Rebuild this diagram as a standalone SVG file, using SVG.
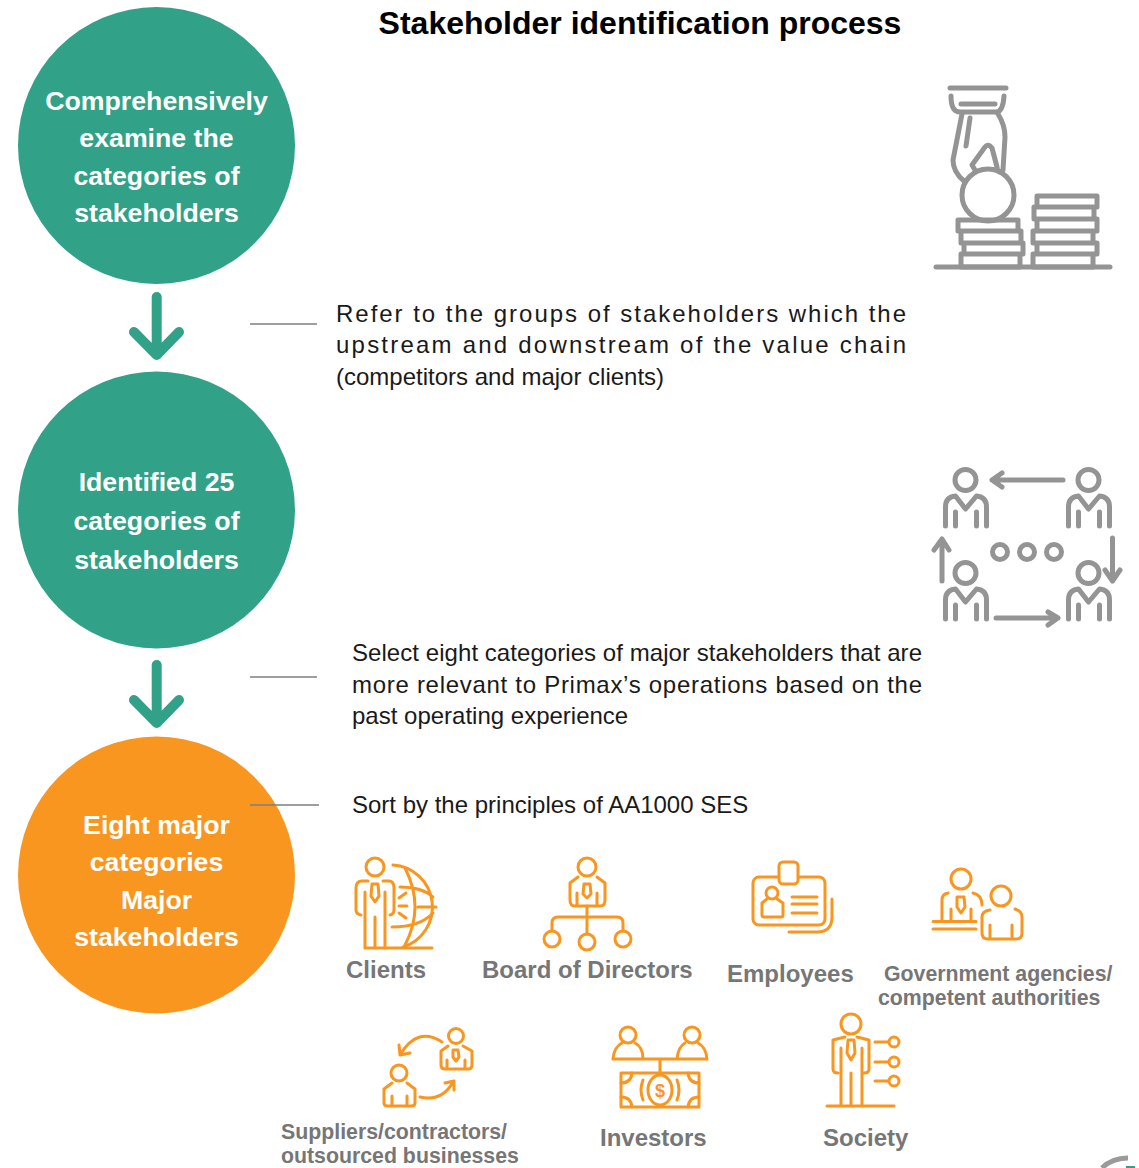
<svg xmlns="http://www.w3.org/2000/svg" xmlns:xlink="http://www.w3.org/1999/xlink" width="1139" height="1168" viewBox="0 0 1139 1168">
<style>
text{font-family:"Liberation Sans",Arial,sans-serif}
.title{font-size:32px;font-weight:700;fill:#000;text-anchor:middle}
.node{font-size:26.7px;font-weight:700;fill:#fff;text-anchor:middle}
.body{font-size:24px;fill:#1a1a1a}
.lab{font-size:24px;font-weight:700;fill:#767676}
.lab2{font-size:21.3px;font-weight:700;fill:#767676}
.g{fill:none;stroke:#949494;stroke-width:5;stroke-linecap:round;stroke-linejoin:round}
.o{fill:none;stroke:#F9961F;stroke-width:3;stroke-linecap:round;stroke-linejoin:round}
.arrow{fill:none;stroke:#31A287;stroke-width:10;stroke-linecap:round;stroke-linejoin:round}
.lead{stroke:#7f7f7f;stroke-width:1.5;fill:none}
</style>
<defs>
<g id="person" class="g">
<circle cx="0" cy="0" r="10.5"/>
<path d="M-20,46V27Q-20,17-10,16L0,29L11,16Q21,17 21,27V46"/>
<path d="M-10,32V46M11,32V46"/>
</g>
</defs>
<text class="title" x="640" y="34">Stakeholder identification process</text>

<g id="node-examine">
<circle cx="156.500" cy="145.500" r="138.500" fill="#31A287"/>
<text class="node" x="156.500" y="110">Comprehensively</text>
<text class="node" x="156.500" y="147">examine the</text>
<text class="node" x="156.500" y="185">categories of</text>
<text class="node" x="156.500" y="222">stakeholders</text>
</g>
<g id="node-identified">
<circle cx="156.500" cy="510" r="138.500" fill="#31A287"/>
<text class="node" x="156.500" y="491">Identified 25</text>
<text class="node" x="156.500" y="530">categories of</text>
<text class="node" x="156.500" y="569">stakeholders</text>
</g>
<g id="node-eight">
<circle cx="156.500" cy="875" r="138.500" fill="#F9961F"/>
<text class="node" x="156.500" y="834">Eight major</text>
<text class="node" x="156.500" y="871">categories</text>
<text class="node" x="156.500" y="909">Major</text>
<text class="node" x="156.500" y="946">stakeholders</text>
</g>

<g id="connectors">
<path class="arrow" d="M156.700,297V354M134,332L156.700,355L179,332"/>
<path class="arrow" d="M156.700,665V722M134,700L156.700,723L179,700"/>
<path class="lead" d="M250,324H317M250,677H317M250,805H319"/>
</g>

<g id="notes">
<text class="body" x="336" y="322" textLength="570">Refer to the groups of stakeholders which the</text>
<text class="body" x="336" y="353" textLength="570">upstream and downstream of the value chain</text>
<text class="body" x="336" y="385">(competitors and major clients)</text>
<text class="body" x="352" y="661" textLength="570">Select eight categories of major stakeholders that are</text>
<text class="body" x="352" y="693" textLength="570">more relevant to Primax’s operations based on the</text>
<text class="body" x="352" y="724">past operating experience</text>
<text class="body" x="352" y="813">Sort by the principles of AA1000 SES</text>
</g>

<g id="icon-coins" class="g">
<path d="M950,88H1006M951,96Q951,112 960,112H996Q1003,112 1004,96M961,104H995"/>
<path d="M962,114L953,160Q953,172 964,181M998,114Q1005,125 1005,137L1003,170Q998,175 997,167L992,148Q988,143 985,147L972,165L975,170M970,118L966,146"/>
<circle cx="988" cy="195" r="26"/>
<path d="M958,220H1018V231H958ZM961,231H1021V243H961ZM964,243H1023V254H964ZM961,254H1020V267H961Z"/>
<path d="M1037,196H1097V207H1037ZM1034,207H1094V219H1034ZM1037,219H1097V231H1037ZM1033,231H1093V243H1033ZM1037,243H1097V254H1037ZM1033,254H1093V267H1033Z"/>
<path d="M936,267H1110"/>
</g>

<g id="icon-cycle">
<use xlink:href="#person" href="#person" x="965.500" y="480"/>
<use xlink:href="#person" href="#person" x="1088.500" y="480"/>
<use xlink:href="#person" href="#person" x="965.500" y="573"/>
<use xlink:href="#person" href="#person" x="1088.500" y="573"/>
<g class="g">
<path d="M1063,480H992M1002,473L992,480L1002,487"/>
<path d="M942,581V539M934,550L942,539L949,550"/>
<path d="M1112.500,538V581M1105,570L1112.500,581L1120,570"/>
<path d="M996,618H1058M1048,612L1058,618L1048,625"/>
<circle cx="1000" cy="552" r="7.500"/><circle cx="1027" cy="552" r="7.500"/><circle cx="1054" cy="552" r="7.500"/>
</g>
</g>

<g id="stakeholder-clients">
<g class="o">
<circle cx="375" cy="867" r="9"/>
<path d="M368,881H362Q356,881 356,888V910Q356,914 361,915M383,881H389Q394,881 394,888V910Q394,914 390,915M365,892V948M385,892V948M375,917V948M365,948H432"/>
<path d="M372,884H378L379,896L375,902L371,896Z"/>
<path d="M393,865A42,42 0 0 1 403,947M405,868Q425,907 405,945M400,887Q422,887 433,897M418,907H436M392,927Q420,927 433,913M399,898L406,893M399,906H407M399,913L406,918"/>
</g>
<text class="lab" x="346" y="978">Clients</text>
</g>

<g id="stakeholder-board">
<g class="o">
<circle cx="587" cy="867" r="9"/>
<path d="M578,877L570,883V900Q570,906 575,906H600Q605,906 605,900V883L597,877M577,893V905M597,893V905M584,884H590L591,894L587,898L583,894Z"/>
<path d="M587,906V934M552,931V923Q552,917 558,917H617Q623,917 623,923V931"/>
<circle cx="552" cy="939" r="8"/><circle cx="587" cy="942" r="8"/><circle cx="623" cy="939" r="8"/>
</g>
<text class="lab" x="482" y="978">Board of Directors</text>
</g>

<g id="stakeholder-employees">
<g class="o">
<rect x="753" y="877" width="72" height="48" rx="6"/>
<rect x="779" y="862" width="19" height="22" rx="4" fill="#fff"/>
<circle cx="772" cy="893" r="6"/>
<path d="M767,899L762,903V915Q762,917 764,917H781Q783,917 783,915V903L777,899"/>
<path d="M792,897H817M792,904H817M792,913H817M832,899V917Q832,932 817,932H789"/>
</g>
<text class="lab" x="727" y="982">Employees</text>
</g>

<g id="stakeholder-government">
<g class="o">
<circle cx="961" cy="879" r="10"/>
<path d="M948,893Q942,894 942,900V921M973,893Q982,895 982,905M951,909V921M971,909V921M957,897H964L965,907L961,913L957,907ZM933,921.500H976M933,929H976"/>
<circle cx="1001" cy="896" r="10"/>
<path d="M990,910Q982,911 982,917V933Q982,939 988,939H1016Q1022,939 1022,933V917Q1022,911 1015,909M990,925V939M1012,925V939"/>
</g>
<text class="lab2" x="884" y="980.500">Government agencies/</text>
<text class="lab2" x="878" y="1004.500">competent authorities</text>
</g>

<g id="stakeholder-suppliers">
<g class="o">
<circle cx="456" cy="1036" r="7.500"/>
<path d="M448,1046L441,1051V1065Q441,1069 445,1069H468Q472,1069 472,1065V1051L463,1046M447,1060V1069M465,1060V1069M453,1050H458L459,1057L456,1061L453,1057Z"/>
<circle cx="399" cy="1073" r="8"/>
<path d="M392,1083L384,1089V1103Q384,1106 388,1106H411Q415,1106 415,1103V1089L407,1083M392,1096V1106M407,1096V1106"/>
<path d="M442,1042Q417,1026 400,1055M399,1045L400,1055L410,1053M420,1097Q442,1102 453,1082M445,1083L454,1081L454,1090"/>
</g>
<text class="lab2" x="281" y="1139">Suppliers/contractors/</text>
<text class="lab2" x="281" y="1163">outsourced businesses</text>
</g>

<g id="stakeholder-investors">
<g class="o">
<circle cx="628" cy="1035" r="8"/><circle cx="692" cy="1035" r="8"/>
<path d="M613,1059H707M613,1059Q614,1047 622,1043M635,1043Q643,1047 643,1059M677,1059Q678,1047 685,1043M698,1043Q706,1047 707,1059M660,1059V1073"/>
<rect x="621" y="1073" width="78" height="34"/>
<ellipse cx="660" cy="1090" rx="12" ry="15"/>
<path d="M643,1080Q639,1090 643,1100M677,1080Q681,1090 677,1100M621,1083Q631,1083 632,1073M699,1083Q689,1083 688,1073M621,1097Q631,1097 632,1107M699,1097Q689,1097 688,1107"/>
</g>
<text x="660" y="1097" font-size="18" font-weight="700" fill="#F9961F" text-anchor="middle">$</text>
<text class="lab" x="600" y="1146">Investors</text>
</g>

<g id="stakeholder-society">
<g class="o">
<circle cx="851" cy="1024" r="10"/>
<path d="M845,1037L833,1040V1069Q833,1073 838,1073M857,1037L869,1040V1069Q869,1073 864,1073M841,1048V1105M862,1048V1105M851,1073V1105M848,1040H854L855,1053L851,1060L847,1053ZM827,1106H894"/>
<path d="M875,1042H888M875,1062H888M875,1081H888"/>
<circle cx="894" cy="1042" r="5"/><circle cx="894" cy="1062" r="5"/><circle cx="894" cy="1081" r="5"/>
</g>
<text class="lab" x="823" y="1146">Society</text>
</g>

<path d="M1102,1168Q1112,1158 1128,1158" fill="none" stroke="#9a9a9a" stroke-width="5"/>
<path d="M1126,1167H1135" fill="none" stroke="#31A287" stroke-width="2"/>
</svg>
